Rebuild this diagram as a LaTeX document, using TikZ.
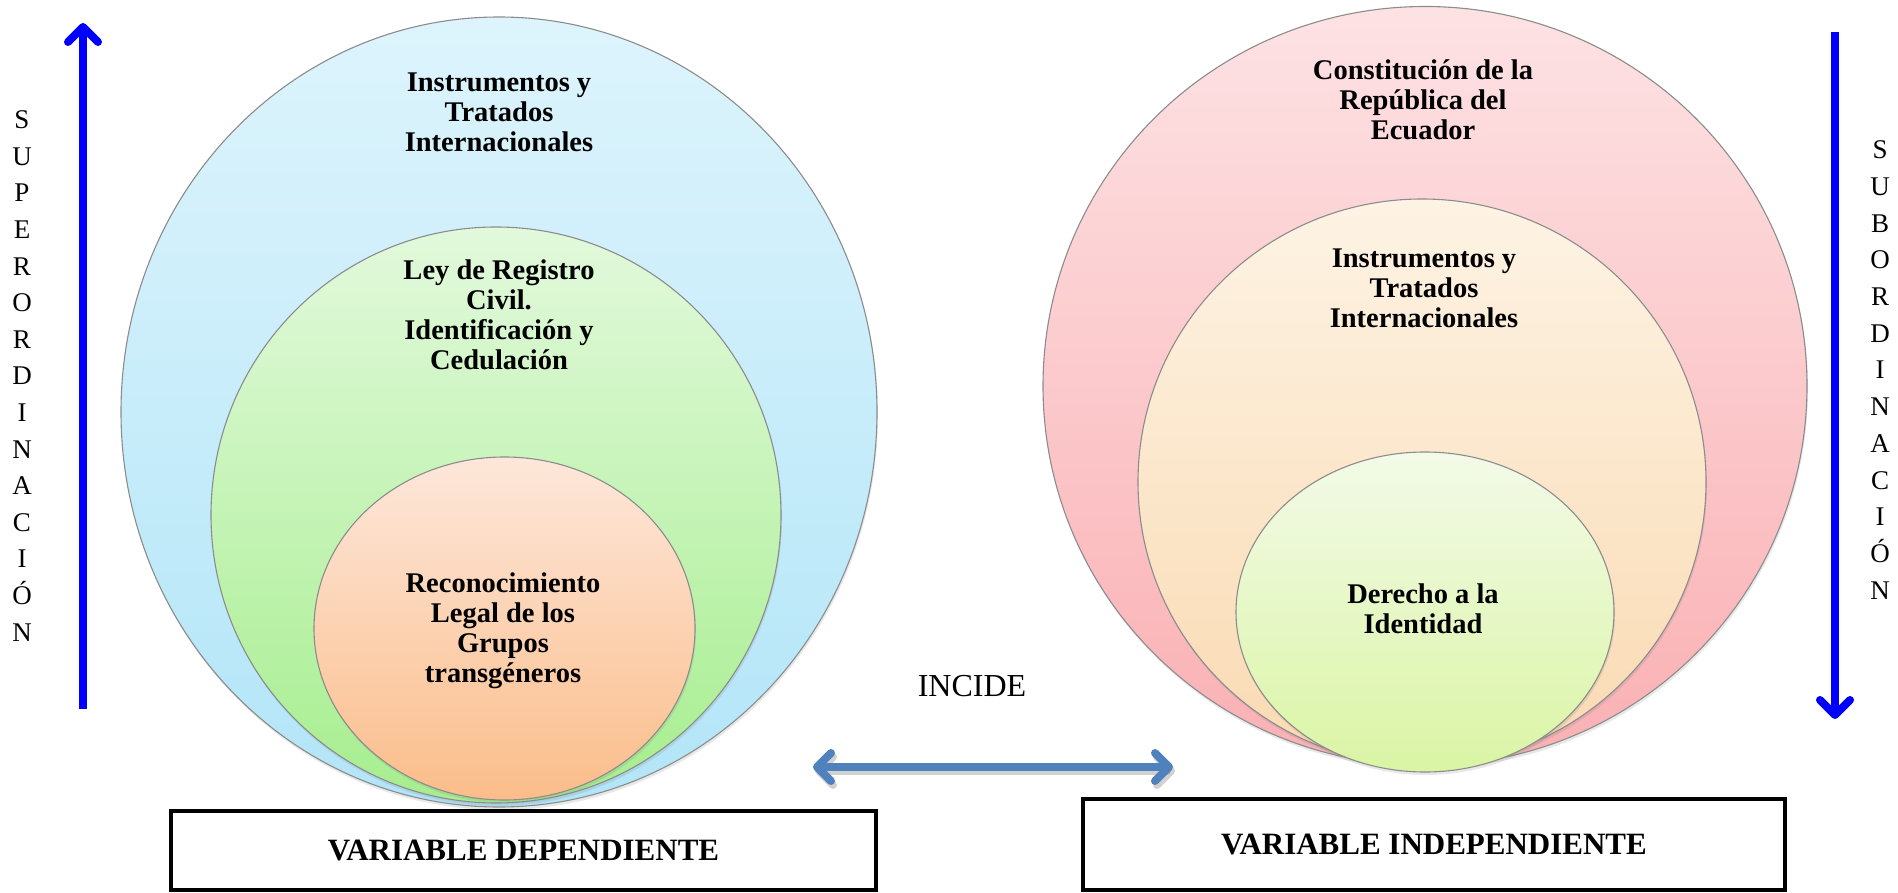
\documentclass[tikz,border=0pt]{standalone}
\usepackage{fontspec}
\setmainfont{Liberation Serif}
\usetikzlibrary{shapes.geometric,arrows.meta,shadows}
\definecolor{bluetop}{HTML}{DDF4FC}
\definecolor{bluebot}{HTML}{B2E5F8}
\definecolor{greentop}{HTML}{E2F9DC}
\definecolor{greenbot}{HTML}{A6EE8E}
\definecolor{orangetop}{HTML}{FDE7DA}
\definecolor{orangebot}{HTML}{FBBD8A}
\definecolor{pinktop}{HTML}{FDE2E4}
\definecolor{pinkbot}{HTML}{FAB0B3}
\definecolor{peachtop}{HTML}{FDF3E4}
\definecolor{peachbot}{HTML}{FADAB2}
\definecolor{limetop}{HTML}{F3FAE8}
\definecolor{limebot}{HTML}{DAF5A4}
\definecolor{incide}{HTML}{4F81BD}
\definecolor{purblue}{RGB}{0,0,255}
\begin{document}
\begin{tikzpicture}[x=1pt,y=-1pt,
  circ/.style={ellipse, draw=black!45, line width=1.1pt, inner sep=0pt,
    drop shadow={opacity=0.18, shadow xshift=1pt, shadow yshift=-3pt}},
  lbl/.style={font=\fontsize{28.5}{30}\selectfont\bfseries, align=center, inner sep=0pt},
  vletters/.style={align=center, inner sep=0pt},
  varbox/.style={draw=black, line width=4pt, inner sep=0pt,
    font=\fontsize{31}{33}\selectfont\bfseries},
  vertarrow/.style={draw=purblue, line width=8pt,
    -{Straight Barb[length=15pt,width=30pt,round]}},
  dblarrow/.style={draw=incide, line width=8pt, line cap=round,
    {Straight Barb[length=14pt,width=28pt,round]}-{Straight Barb[length=14pt,width=28pt,round]}}
]
\useasboundingbox (0,0) rectangle (1898,893);
\fill[white] (0,0) rectangle (1898,893);

% left set
\node[circ, top color=bluetop, bottom color=bluebot, minimum width=756pt, minimum height=790pt] (outerL) at (499,412) {};
\node[circ, top color=greentop, bottom color=greenbot, minimum width=570pt, minimum height=576pt] (midL) at (496,515) {};
\node[circ, top color=orangetop, bottom color=orangebot, minimum width=381pt, minimum height=343pt] (innerL) at (504.5,628.5) {};
\node[lbl] (t1) at (499,112) {Instrumentos y\\Tratados\\Internacionales};
\node[lbl] (t2) at (499,315) {Ley de Registro\\Civil.\\Identificación y\\Cedulación};
\node[lbl] (t3) at (503,631) {Reconocimiento\\Legal de los\\Grupos\\transgéneros};

% right set
\node[circ, top color=pinktop, bottom color=pinkbot, minimum width=764pt, minimum height=759pt] (outerR) at (1425,386) {};
\node[circ, top color=peachtop, bottom color=peachbot, minimum width=568pt, minimum height=566pt] (midR) at (1422,482) {};
\node[circ, top color=limetop, bottom color=limebot, minimum width=378pt, minimum height=320pt] (innerR) at (1425,612) {};
\node[lbl] (t4) at (1423,100) {Constitución de la\\República del\\Ecuador};
\node[lbl] (t5) at (1424,288) {Instrumentos y\\Tratados\\Internacionales};
\node[lbl] (t6) at (1423,609) {Derecho a la\\Identidad};

% boxes
\node[varbox, minimum width=705pt, minimum height=79pt] (dep) at (523.5,850.5) {VARIABLE DEPENDIENTE};
\node[varbox, minimum width=702pt, minimum height=91pt] (indep) at (1434,844.5) {VARIABLE INDEPENDIENTE};

% incide
\node[font=\fontsize{32}{34}\selectfont, inner sep=0pt, anchor=base] (inc) at (972,696) {INCIDE};
\coordinate (dl) at (813,767);
\coordinate (dr) at (1173,767);
\draw[dblarrow, draw=black, opacity=0.18, transform canvas={shift={(2pt,-4pt)}}] (dl) -- (dr);
\draw[dblarrow] (dl) -- (dr);

% vertical arrows
\coordinate (supB) at (83,709);
\coordinate (supT) at (83,23);
\draw[vertarrow] (supB) -- (supT);
\coordinate (subT) at (1835,32);
\coordinate (subB) at (1835,719);
\draw[vertarrow] (subT) -- (subB);

\node[vletters, font=\fontsize{27}{36.6}\selectfont] (supw) at (22,376)
  {S\\U\\P\\E\\R\\O\\R\\D\\I\\N\\A\\C\\I\\Ó\\N};
\node[vletters, font=\fontsize{27}{36.7}\selectfont] (subw) at (1880,370)
  {S\\U\\B\\O\\R\\D\\I\\N\\A\\C\\I\\Ó\\N};
\end{tikzpicture}
\end{document}
